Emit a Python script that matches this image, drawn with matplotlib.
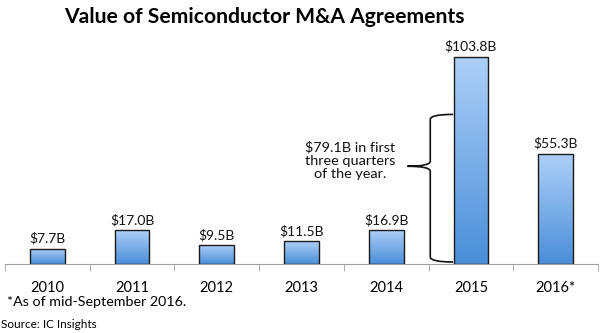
import numpy as np
import matplotlib
matplotlib.use("Agg")
import matplotlib.pyplot as plt
from matplotlib.path import Path
from matplotlib.patches import PathPatch
from matplotlib.colors import LinearSegmentedColormap

# Data
years = ['2010', '2011', '2012', '2013', '2014', '2015', '2016*']
values = [7.7, 17.0, 9.5, 11.5, 16.9, 103.8, 55.3]
value_labels = ['$7.7B', '$17.0B', '$9.5B', '$11.5B', '$16.9B', '$103.8B', '$55.3B']
note_text = '$79.1B in first\nthree quarters\nof the year.'

plt.rcParams['font.family'] = ['Lato', 'DejaVu Sans']

fig = plt.figure(figsize=(6, 3.33), dpi=100)
ax = fig.add_axes([5 / 600, 1 - 264 / 333, 593 / 600, 224 / 333])

x = np.arange(len(years))
bars = ax.bar(x, values, width=0.41, color='none', edgecolor='#1a1a1a', linewidth=1.0, zorder=3)

# gradient fill for each bar
cmap = LinearSegmentedColormap.from_list('blues', ['#4a8ed8', '#aed0f8'])
grad = np.linspace(0, 1, 256).reshape(-1, 1)
for b in bars:
    x0, y0 = b.get_x(), b.get_y()
    im = ax.imshow(grad, cmap=cmap, origin='lower', aspect='auto',
                   extent=[x0, x0 + b.get_width(), y0, y0 + b.get_height()], zorder=2)
    im.set_clip_path(b)

for xi, v, lab in zip(x, values, value_labels):
    ax.text(xi, v + 2.0, lab, ha='center', va='bottom', fontsize=10, color='#111111')

ax.set_xlim(-0.5, len(years) - 0.5)
ax.set_ylim(0, 112.3)

for s in ['top', 'right', 'left']:
    ax.spines[s].set_visible(False)
ax.spines['bottom'].set_color('#a0a0a0')
ax.set_yticks([])
ax.set_xticks(x)
ax.set_xticklabels(years, fontsize=10.5)
ax.tick_params(axis='x', which='major', length=0, pad=12)
ax.set_xticks(np.arange(-0.5, len(years)), minor=True)
ax.tick_params(axis='x', which='minor', length=5, color='#a0a0a0', direction='out')

# curly brace next to 2015 bar
xr, xm, xt = 4.79, 4.52, 4.25
ytop, ybot, ytip = 75.0, 1.0, 49.0
verts = [(xr, ytop), (xm, ytop), (xm, ytop - 2.5),
         (xm, ytip + 2.5),
         (xm, ytip), (xt, ytip),
         (xm, ytip), (xm, ytip - 2.5),
         (xm, ybot + 2.5),
         (xm, ybot), (xr, ybot)]
codes = [Path.MOVETO, Path.CURVE3, Path.CURVE3,
         Path.LINETO,
         Path.CURVE3, Path.CURVE3,
         Path.CURVE3, Path.CURVE3,
         Path.LINETO,
         Path.CURVE3, Path.CURVE3]
ax.add_patch(PathPatch(Path(verts, codes), facecolor='none', edgecolor='#111111', linewidth=1.2, zorder=4))

ax.text(3.57, 52.0, note_text, ha='center', va='center', multialignment='center',
        fontsize=10.4, linespacing=1.1, color='#111111')

fig.text(264 / 600, 0.95, 'Value of Semiconductor M&A Agreements', ha='center', va='center',
         fontsize=15.2, fontweight='bold')
fig.text(7 / 600, 1 - 302 / 333, '*As of mid-September 2016.', ha='left', va='center', fontsize=10.3)
fig.text(1 / 600, 1 - 325 / 333, 'Source: IC Insights', ha='left', va='center', fontsize=8.5)

fig.savefig('out.png', dpi=100)
